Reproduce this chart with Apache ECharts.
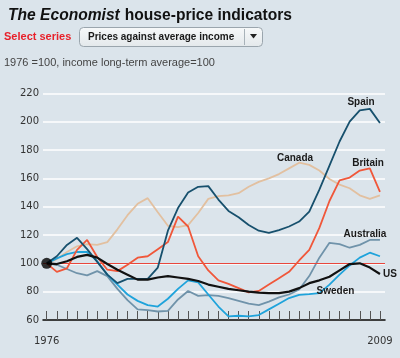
<!DOCTYPE html>
<html>
<head>
<meta charset="utf-8">
<script src="https://cdn.jsdelivr.net/npm/echarts@6/dist/echarts.min.js"></script>
<style>
html,body{margin:0;padding:0;background:#dbe4eb;}
#chart{width:400px;height:358px;}
</style>
</head>
<body>
<div id="chart"></div>
<script>
const years = [1976,1977,1978,1979,1980,1981,1982,1983,1984,1985,1986,1987,1988,1989,1990,1991,1992,1993,1994,1995,1996,1997,1998,1999,2000,2001,2002,2003,2004,2005,2006,2007,2008,2009];
const xLabelYears = [1976, 2009];
const yTicks = [60, 80, 100, 120, 140, 160, 180, 200, 220];

const spain = [100,105,113,118,110,101,92,86,89,89,89,97,123,139,150,154,154.5,145,137,132.5,127,123,121.5,123.5,126,129.5,136.5,152,169,186,200,208,209,199];
const canada = [100,103,108,112,113.5,113,115,124,134,142,146,136,126.5,125.5,127,135.5,145.5,147.5,148,149.5,154,157.5,160,163,167,171,169.5,165.5,159.5,155.5,153,148,145.5,148];
const britain = [100,94,96.5,109.5,116.5,104.5,95.5,94.5,99,104,105,110,115,133,126,105,95,88,85.5,82.5,79.5,80.5,85,89.5,94,102,109.5,125,144,158.5,160.5,165.5,167,150.5];
const australia = [100,99,96,93,91.5,94.5,91,82,74,67.5,67,66,66.5,74.5,80.5,77,77.5,77,75.5,73.5,71.5,70.5,73,76,78,81.5,91,104,114.5,113.5,111,113,116.5,116.5];
const sweden = [100,103.5,106.5,108,108,101.5,92,85,78,73.5,70.5,69.5,75,82,88,86.5,78,69.5,62.5,63,62.5,63.5,67.5,71.5,75.5,77.8,78.3,79,85,92,98.5,104,107.5,105];
const us = [100,99.5,101.5,104.5,106,104,99.5,95.5,92,88.5,88.5,90,91,90,89,87.5,85,83.5,82,81,80,79.3,79,79,80,82.5,86,88,90.5,95,99.5,100,97,92.5];
const baseValue = 100;

const seriesNames = ['Canada','Australia','Sweden','Britain','Spain','US'];
const seriesValues = [canada, australia, sweden, britain, spain, us];
const seriesColors = ['#e2c0a0','#7093aa','#1fa3db','#f0573a','#17506d','#111111'];
const seriesWidths = [1.8,1.8,1.8,1.8,1.8,2.2];

const FONT = 'Liberation Sans, Arial, sans-serif';
const AXFONT = 'DejaVu Sans, Verdana, sans-serif';

const chart = echarts.init(document.getElementById('chart'), null, {renderer:'canvas'});

const series = seriesNames.map((n, k) => ({
  name: n,
  type: 'line',
  data: years.map((y, i) => [y, seriesValues[k][i]]),
  showSymbol: false,
  symbol: 'none',
  smooth: false,
  lineStyle: {color: seriesColors[k], width: seriesWidths[k]},
  itemStyle: {color: seriesColors[k]},
  z: 3 + k,
  silent: true,
  animation: false
}));
series[0].markLine = {
  silent: true,
  symbol: 'none',
  label: {show: false},
  lineStyle: {color: '#e8473d', width: 1, type: 'solid'},
  data: [{yAxis: baseValue}],
  animation: false
};
series.push({
  type: 'scatter',
  data: [[years[0], baseValue]],
  symbolSize: 11,
  itemStyle: {color: '#000'},
  z: 20,
  silent: true,
  animation: false
});

const labelStyle = {fontFamily: FONT, fontSize: 10, fontWeight: 'bold', fill: '#1a1a1a'};
function lab(text, x, y) {
  return {type: 'text', x: x, y: y, z: 100, style: Object.assign({text: text, align: 'center', verticalAlign: 'middle'}, labelStyle)};
}

chart.setOption({
  backgroundColor: '#dbe4eb',
  animation: false,
  title: {
    text: '{i|The Economist} {b|house-price indicators}',
    left: 3, top: 2,
    textStyle: {
      rich: {
        i: {fontFamily: FONT, fontSize: 15.6, fontWeight: 'bold', fontStyle: 'italic', color: '#111'},
        b: {fontFamily: FONT, fontSize: 15.6, fontWeight: 'bold', color: '#111'}
      }
    }
  },
  grid: {left: 43, right: 15, top: 93.3, bottom: 38, containLabel: false},
  xAxis: {
    type: 'value',
    min: 1975.63,
    max: 2009.5,
    splitLine: {show: false},
    axisLine: {show: true, onZero: false, lineStyle: {color: '#000', width: 1.5}},
    axisTick: {show: true, inside: true, length: 9, customValues: years, lineStyle: {color: '#555', width: 1}},
    axisLabel: {show: true, customValues: xLabelYears, margin: 16, fontFamily: AXFONT, fontSize: 10, color: '#333',
      formatter: function (v) { return String(v); }}
  },
  yAxis: {
    type: 'value',
    min: 60, max: 220, interval: 20,
    axisLine: {show: false},
    axisTick: {show: false},
    axisLabel: {margin: 4, fontFamily: AXFONT, fontSize: 10, color: '#333'},
    splitLine: {show: true, lineStyle: {color: '#ffffff', width: 1.5}}
  },
  series: series,
  graphic: [
    {type: 'text', x: 4, y: 36.5, style: {text: 'Select series', fontFamily: FONT, fontSize: 11, fontWeight: 'bold', fill: '#e8202a', verticalAlign: 'middle'}},
    {type: 'rect', shape: {x: 79.5, y: 27.5, width: 183, height: 19, r: 4},
     style: {fill: new echarts.graphic.LinearGradient(0,0,0,1,[{offset:0,color:'#f7f9fa'},{offset:1,color:'#e3e8eb'}]), stroke: '#9aa5ad', lineWidth: 1}},
    {type: 'line', shape: {x1: 244.5, y1: 29, x2: 244.5, y2: 45}, style: {stroke: '#a8b2b9', lineWidth: 1}},
    {type: 'polygon', shape: {points: [[250,34],[257,34],[253.5,38.5]]}, style: {fill: '#222'}},
    {type: 'text', x: 88, y: 37, style: {text: 'Prices against average income', fontFamily: FONT, fontSize: 10, fontWeight: 'bold', fill: '#1a1a1a', verticalAlign: 'middle'}},
    {type: 'text', x: 4, y: 62.5, style: {text: '1976 =100, income long-term average=100', fontFamily: FONT, fontSize: 11, fill: '#444', verticalAlign: 'middle'}},
    lab('Spain', 361, 102.5),
    lab('Canada', 295, 158.5),
    lab('Britain', 368, 163.5),
    lab('Australia', 365, 234),
    lab('US', 390, 274),
    lab('Sweden', 335.5, 291)
  ]
});
</script>
</body>
</html>
